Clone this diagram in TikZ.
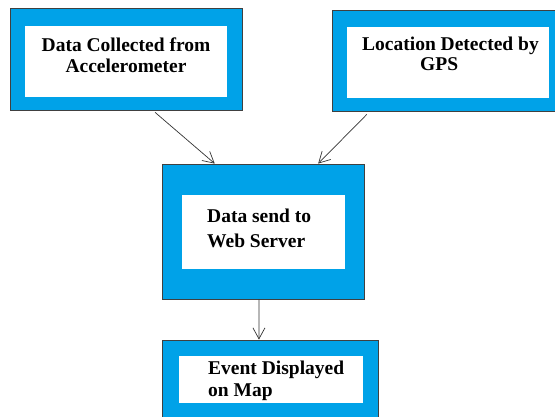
\documentclass[tikz,border=0pt]{standalone}
\usepackage{fontspec}
\setmainfont{Liberation Serif}
\usetikzlibrary{arrows.meta,calc}
\definecolor{paintblue}{RGB}{0,162,232}

\begin{document}
\begin{tikzpicture}[x=1pt,y=-1pt,
    outerbox/.style={draw=black!75,line width=0.8pt,fill=paintblue,inner sep=0pt},
    innerbox/.style={fill=white,inner sep=0pt},
    boxtext/.style={font=\bfseries\fontsize{19.5}{21}\selectfont,inner sep=0pt},
    conn/.style={draw=black!80,line width=0.7pt,-{Straight Barb[length=11pt,width=12pt]}}]
        \useasboundingbox (0,0) rectangle (555,417);
        \clip (0,0) rectangle (555,417);
        % Accelerometer
        \node[outerbox,minimum width=232,minimum height=102] (acc) at (126,59) {};
        \node[innerbox,minimum width=202,minimum height=71] (accin) at (126,61.5) {};
        \node[boxtext,align=center,anchor=base] (acctxt) at (126,73) {Data Collected from\\Accelerometer};
        % GPS
        \node[outerbox,minimum width=231,minimum height=101] (gps) at (447.5,60.5) {};
        \node[innerbox,minimum width=202,minimum height=71] (gpsin) at (448,62.5) {};
        \node[boxtext,align=left,anchor=base west] (gpstxt) at (362,71) {Location Detected by\\[-1pt]\hspace*{58pt}GPS};
        % Web server
        \node[outerbox,minimum width=202,minimum height=135] (srv) at (263,231.5) {};
        \node[innerbox,minimum width=163,minimum height=74] (srvin) at (263.5,232) {};
        \node[boxtext,align=left,anchor=base west] (srvtxt) at (207,248) {Data send to\\[4pt]Web Server};
        % Map
        \node[outerbox,minimum width=216,minimum height=80] (map) at (270,380) {};
        \node[innerbox,minimum width=184,minimum height=47] (mapin) at (271,379.5) {};
        \node[boxtext,align=left,anchor=base west] (maptxt) at (208,396) {Event Displayed\\[1pt]on Map};
        % Pijlen
        \draw[conn] ([yshift=-2pt]$(acc.south west)!0.625!(acc.south east)$) -- ($(srv.north west)!0.262!(srv.north east)$);
        \draw[conn] ([yshift=-3pt]$(gps.south west)!0.152!(gps.south east)$) -- ($(srv.north west)!0.772!(srv.north east)$);
        \draw[conn] ($(srv.south west)!0.48!(srv.south east)$) -- ($(map.north west)!0.449!(map.north east)$);
\end{tikzpicture}
\end{document}
